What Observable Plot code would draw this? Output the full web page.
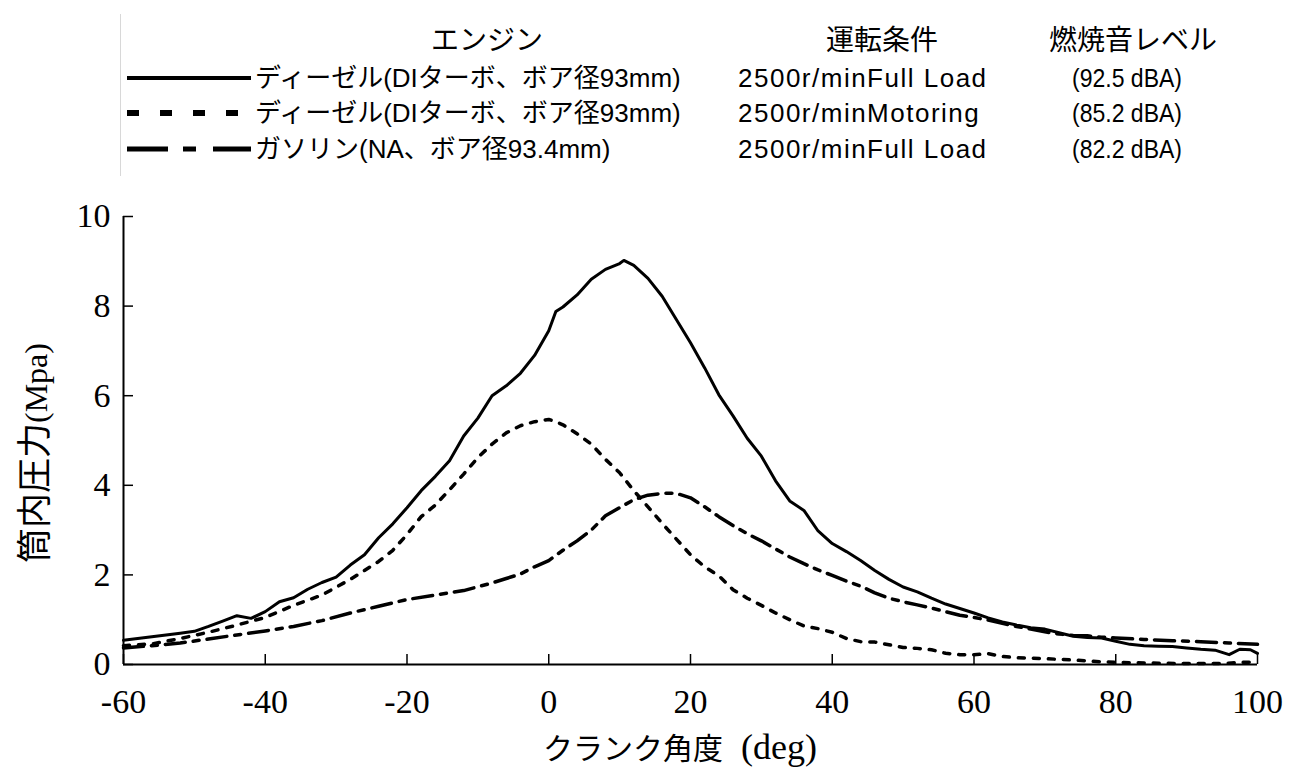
<!DOCTYPE html>
<html><head><meta charset="utf-8">
<script src="https://cdn.jsdelivr.net/npm/d3@7"></script>
<script src="https://cdn.jsdelivr.net/npm/@observablehq/plot@0.6"></script>
<style>body{margin:0;background:#fff} svg{display:block}</style>
</head><body><div id="chart"></div>
<script>
// ---- data ----
const legendHeaders = ["エンジン", "運転条件", "燃焼音レベル"];
const legendEngines = ["ディーゼル(DIターボ、ボア径93mm)", "ディーゼル(DIターボ、ボア径93mm)", "ガソリン(NA、ボア径93.4mm)"];
const legendConditions = ["2500r/minFull Load", "2500r/minMotoring", "2500r/minFull Load"];
const legendLevels = ["(92.5 dBA)", "(85.2 dBA)", "(82.2 dBA)"];

const xTicks = [-60, -40, -20, 0, 20, 40, 60, 80, 100];
const yTicks = [0, 2, 4, 6, 8, 10];
const xTitleJa = "クランク角度";
const xTitleUnit = "(deg)";
const yTitleJa = "筒内圧力";
const yTitleUnit = "(Mpa)";

const dieselFullAngle = [-60,-56,-52,-50,-48,-46,-44,-42,-40,-38,-36,-34,-32,-30,-28,-26,-24,-22,-20,-18,-16,-14,-12,-10,-8,-6,-4,-2,0,1,2,4,6,8,10,10.6,12,14,16,18,20,22,24,26,28,30,32,34,36,38,40,42,44,46,48,50,52,54,56,58,60,62,64,66,68,70,72,74,76,78,80,82,84,86,88,90,92,94,96,97.5,99,100];
const dieselFullP = [0.54,0.62,0.70,0.74,0.85,0.97,1.09,1.03,1.18,1.40,1.49,1.68,1.83,1.95,2.22,2.45,2.83,3.14,3.50,3.88,4.20,4.55,5.10,5.50,6.00,6.22,6.50,6.90,7.45,7.88,7.98,8.25,8.60,8.82,8.95,9.02,8.91,8.62,8.22,7.70,7.18,6.62,6.02,5.55,5.05,4.65,4.10,3.65,3.44,2.98,2.70,2.52,2.32,2.10,1.90,1.73,1.62,1.48,1.35,1.25,1.15,1.04,0.95,0.88,0.82,0.79,0.71,0.63,0.60,0.59,0.52,0.45,0.42,0.41,0.40,0.37,0.34,0.32,0.22,0.34,0.33,0.25];

const motoringAngle = [-60,-56,-52,-48,-44,-40,-36,-32,-28,-26,-24,-22,-20,-18,-16,-14,-12,-10,-8,-6,-4,-2,0,1,2,4,6,8,10,12,14,16,18,20,22,24,26,28,30,32,34,36,38,40,42,44,46,48,50,52,54,56,58,60,62,64,66,70,74,78,82,86,90,95,98,100];
const motoringP = [0.42,0.46,0.58,0.72,0.88,1.05,1.32,1.55,1.90,2.10,2.30,2.55,2.90,3.30,3.56,3.90,4.25,4.62,4.92,5.17,5.33,5.42,5.47,5.42,5.35,5.15,4.92,4.58,4.28,3.88,3.52,3.15,2.80,2.45,2.18,1.98,1.67,1.48,1.32,1.15,1.00,0.86,0.80,0.72,0.58,0.51,0.50,0.44,0.38,0.36,0.33,0.25,0.22,0.22,0.24,0.18,0.15,0.13,0.10,0.06,0.04,0.03,0.02,0.02,0.05,0.05];

const gasolineAngle = [-60,-56,-52,-48,-44,-40,-36,-32,-28,-24,-20,-16,-12,-8,-6,-4,-2,0,2,4,6,8,10,12,14,16,18,20,22,24,26,28,30,32,34,36,38,40,42,44,46,48,50,52,54,56,58,60,62,64,66,68,70,72,74,76,78,80,84,88,92,96,100];
const gasolineP = [0.37,0.42,0.48,0.57,0.66,0.75,0.85,0.98,1.15,1.30,1.45,1.55,1.65,1.82,1.92,2.02,2.18,2.32,2.55,2.76,3.00,3.32,3.50,3.68,3.78,3.82,3.82,3.72,3.52,3.30,3.10,2.92,2.76,2.58,2.40,2.25,2.11,1.99,1.86,1.75,1.60,1.48,1.40,1.33,1.26,1.18,1.10,1.05,0.99,0.92,0.85,0.79,0.73,0.68,0.65,0.64,0.61,0.59,0.56,0.53,0.51,0.48,0.45];

const series = [
  {angle: dieselFullAngle, p: dieselFullP},
  {angle: motoringAngle, p: motoringP},
  {angle: gasolineAngle, p: gasolineP}
];
const toRows = s => s.angle.map((a, i) => ({angle: a, p: s.p[i]}));

// ---- styles ----
const lineStyles = [
  {strokeWidth: 3, dash: null, legendWidth: 4, legendDash: null},
  {strokeWidth: 3.5, dash: "6,9", legendWidth: 6, legendDash: "12,21"},
  {strokeWidth: 3.5, dash: "20,8,6,8", legendWidth: 5, legendDash: "41,15,13,17"}
];

const W = 1290, LEG_H = 190, PLOT_H = 577;
const mL = 123, mR = 33, mT = 26, mB = 103;
const frameW = W - mL - mR, frameH = PLOT_H - mT - mB;
const SERIF = "'Liberation Serif', 'Times New Roman', serif";
const SANS_JA = "'Liberation Sans', 'Noto Sans CJK JP', sans-serif";

const root = d3.select("#chart");

// ---- legend (above the plot) ----
const leg = root.append("svg").attr("width", W).attr("height", LEG_H)
  .style("font-family", SANS_JA).style("fill", "#000");
leg.append("line").attr("x1", 120.5).attr("x2", 120.5).attr("y1", 14).attr("y2", 176)
  .attr("stroke", "#d8d8d8").attr("stroke-width", 1);
const headerX = [487, 882, 1133];
legendHeaders.forEach((h, i) => {
  leg.append("text").attr("x", headerX[i]).attr("y", 40).attr("text-anchor", "middle")
    .attr("dominant-baseline", "central").attr("font-size", 28).text(h);
});
const rowY = [78, 113, 149];
legendEngines.forEach((t, i) => {
  const st = lineStyles[i];
  const ln = leg.append("line").attr("x1", 127).attr("x2", 251).attr("y1", rowY[i]).attr("y2", rowY[i])
    .attr("stroke", "#000").attr("stroke-width", st.legendWidth);
  if (st.legendDash) ln.attr("stroke-dasharray", st.legendDash);
  leg.append("text").attr("x", 255).attr("y", rowY[i]).attr("dominant-baseline", "central")
    .attr("font-size", 26).text(t);
  leg.append("text").attr("x", 738).attr("y", rowY[i]).attr("dominant-baseline", "central")
    .attr("font-size", 26).attr("letter-spacing", 1.5).text(legendConditions[i]);
  leg.append("text").attr("x", 1072).attr("y", rowY[i]).attr("dominant-baseline", "central")
    .attr("font-size", 26).attr("textLength", 110).attr("lengthAdjust", "spacingAndGlyphs").text(legendLevels[i]);
});

// ---- plot ----
const chart = Plot.plot({
  width: W, height: PLOT_H,
  marginLeft: mL, marginRight: mR, marginTop: mT, marginBottom: mB,
  x: {domain: [-60, 100]},
  y: {domain: [0, 10]},
  style: {background: "#fff", color: "#000"},
  marks: [
    ...series.map((s, i) => Plot.line(toRows(s), {
      x: "angle", y: "p", stroke: "#000",
      strokeWidth: lineStyles[i].strokeWidth,
      strokeDasharray: lineStyles[i].dash || undefined,
      strokeLinejoin: "round"
    })),
    Plot.ruleY([0], {stroke: "#000", strokeWidth: 2}),
    Plot.ruleX([-60], {stroke: "#000", strokeWidth: 2}),
    Plot.tickX(xTicks, {x: d => d, stroke: "#000", strokeWidth: 1.5, insetTop: frameH - 10}),
    Plot.tickY(yTicks, {y: d => d, stroke: "#000", strokeWidth: 1.5, insetRight: frameW - 10}),
    Plot.axisX(xTicks, {x: d => d, tickSize: 0, tickPadding: 24, fontSize: 34, fontFamily: SERIF,
      tickFormat: d => String(d), label: null, fill: "#000"}),
    Plot.axisY(yTicks, {y: d => d, tickSize: 0, tickPadding: 13, fontSize: 34, fontFamily: SERIF,
      tickFormat: d => String(d), label: null, fill: "#000"})
  ]
});
root.node().appendChild(chart);

// axis titles (mixed Japanese sans + Latin serif)
const svg = d3.select(chart);
const xt = svg.append("text").attr("x", mL + frameW / 2 - 10).attr("y", PLOT_H - 8)
  .attr("text-anchor", "middle").attr("fill", "#000");
xt.append("tspan").attr("font-family", SANS_JA).attr("font-size", 30).text(xTitleJa);
xt.append("tspan").attr("font-family", SERIF).attr("font-size", 36).attr("dx", 18).text(xTitleUnit);

const yt = svg.append("text").attr("transform", `translate(47,${453 - LEG_H}) rotate(-90)`)
  .attr("text-anchor", "middle").attr("fill", "#000");
yt.append("tspan").attr("font-family", SANS_JA).attr("font-size", 35).text(yTitleJa);
yt.append("tspan").attr("font-family", SERIF).attr("font-size", 32).text(yTitleUnit);
</script></body></html>
